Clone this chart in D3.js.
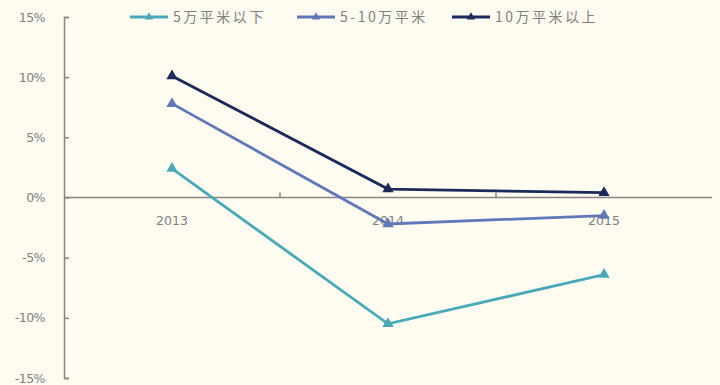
<!DOCTYPE html>
<html>
<head>
<meta charset="utf-8">
<script src="https://cdn.jsdelivr.net/npm/d3@7"></script>
<style>
  body { margin: 0; background: #fefbf1; }
  svg { display: block; font-family: "Noto Sans CJK SC", "DejaVu Sans", sans-serif; }
</style>
</head>
<body>
<svg width="720" height="385"></svg>
<script>
// data (growth rates, %)
var years = ["2013", "2014", "2015"];
var seriesNames = ["5万平米以下", "5-10万平米", "10万平米以上"];
var small = [2.4, -10.5, -6.4];
var mid = [7.8, -2.2, -1.5];
var large = [10.1, 0.7, 0.4];
var yTicks = [-15, -10, -5, 0, 5, 10, 15];
var colors = ["#4aa9b8", "#6178b8", "#1b2a5a"];

var svg = d3.select("svg");
svg.append("rect").attr("width", 720).attr("height", 385).attr("fill", "#fefbf1");

var x = d3.scaleBand().domain(years).range([64, 712]);
var y = d3.scaleLinear().domain([-15, 15]).range([378, 17]);

var axisColor = "#8a8580";
var textColor = "#808080";

// y axis
var yAxis = svg.append("g")
    .attr("transform", "translate(64,0)")
    .call(d3.axisRight(y).tickValues(yTicks).tickSize(5)
      .tickFormat(function(d) { return d + "%"; }));
yAxis.select(".domain").attr("stroke", axisColor).attr("stroke-width", 1.5);
yAxis.selectAll(".tick line").attr("stroke", axisColor).attr("stroke-width", 1.5);
yAxis.selectAll(".tick text")
    .attr("x", -19)
    .attr("text-anchor", "end")
    .attr("fill", textColor)
    .style("font-size", "12.5px")
    .style("font-family", "'DejaVu Sans', sans-serif")
    .style("letter-spacing", "-0.5px");

// x axis at 0, ticks pointing up
var xAxis = svg.append("g").attr("transform", "translate(0," + y(0) + ")");
xAxis.append("line")
    .attr("x1", 64).attr("x2", 712)
    .attr("stroke", axisColor).attr("stroke-width", 1.5);
var bounds = years.map(function(d) { return x(d); }).concat([x.range()[1]]);
xAxis.selectAll(".xt").data(bounds.slice(1, -1)).enter().append("line")
    .attr("x1", function(d) { return d; }).attr("x2", function(d) { return d; })
    .attr("y1", 0).attr("y2", -5)
    .attr("stroke", axisColor).attr("stroke-width", 1.5);
xAxis.selectAll("text").data(years).enter().append("text")
    .attr("x", function(d) { return x(d) + x.bandwidth() / 2; })
    .attr("y", 27)
    .attr("text-anchor", "middle")
    .attr("fill", textColor)
    .style("font-size", "12.5px")
    .style("font-family", "'DejaVu Sans', sans-serif")
    .text(function(d) { return d; });

var allSeries = [small, mid, large];
var line = d3.line()
    .x(function(d, i) { return x(years[i]) + x.bandwidth() / 2; })
    .y(function(d) { return y(d); });
var tri = d3.symbol().type(d3.symbolTriangle).size(55);

allSeries.forEach(function(vals, k) {
  var g = svg.append("g");
  g.append("path")
      .attr("d", line(vals))
      .attr("fill", "none")
      .attr("stroke", colors[k])
      .attr("stroke-width", 2.8);
  g.selectAll("path.m").data(vals).enter().append("path")
      .attr("class", "m")
      .attr("d", tri)
      .attr("fill", colors[k])
      .attr("transform", function(d, i) {
        return "translate(" + (x(years[i]) + x.bandwidth() / 2) + "," + y(d) + ")";
      });
});

// legend
var legX = [130, 297, 452];
var leg = svg.selectAll(".leg").data(seriesNames).enter().append("g")
    .attr("transform", function(d, i) { return "translate(" + legX[i] + ",17)"; });
leg.append("line")
    .attr("x1", 0).attr("x2", 38)
    .attr("stroke", function(d, i) { return colors[i]; })
    .attr("stroke-width", 3);
leg.append("path")
    .attr("d", d3.symbol().type(d3.symbolTriangle).size(30))
    .attr("transform", "translate(19,0)")
    .attr("fill", function(d, i) { return colors[i]; });
leg.append("text")
    .attr("x", 43)
    .attr("y", 5)
    .attr("fill", textColor)
    .style("font-size", "14px")
    .style("letter-spacing", "2.5px")
    .text(function(d) { return d; });
</script>
</body>
</html>
